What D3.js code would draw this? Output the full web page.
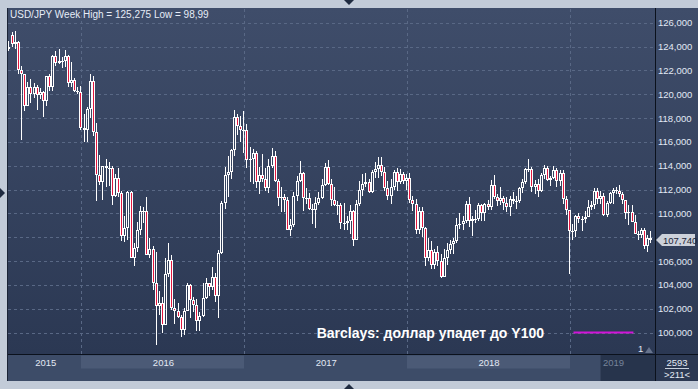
<!DOCTYPE html>
<html>
<head>
<meta charset="utf-8">
<script src="https://cdn.jsdelivr.net/npm/d3@7"></script>
<style>
  body { margin: 0; background: #c2cbd8; }
  svg { display: block; font-family: "Liberation Sans", Arial, sans-serif; }
</style>
</head>
<body>
<div id="chart"></div>
<script>
// weekly USD/JPY candles, [open, high, low, close], one row per week (Monday start)
var start2015 = new Date(2015, 6, 27);
var w2015 = [
  [123.8, 124.5, 123.6, 124.0], [125.0, 125.2, 124.0, 124.2], [124.2, 125.3, 123.8, 124.4],
  [124.4, 124.5, 121.7, 122.0], [122.0, 122.4, 116.2, 121.7], [121.7, 121.7, 118.6, 119.0],
  [119.0, 121.0, 119.0, 120.6], [120.6, 121.3, 119.3, 120.0], [120.0, 120.9, 119.7, 120.6],
  [120.6, 120.8, 118.7, 119.9], [119.9, 120.5, 119.6, 120.2], [120.2, 120.3, 118.1, 119.4],
  [119.4, 121.5, 119.0, 121.5], [121.5, 121.7, 120.3, 120.6], [120.6, 123.3, 120.3, 123.2],
  [123.2, 123.6, 122.4, 122.6], [122.6, 123.8, 122.5, 122.8], [122.8, 123.1, 122.2, 122.8],
  [122.8, 123.7, 122.3, 123.2], [123.2, 123.3, 120.6, 120.9], [120.9, 122.7, 120.6, 121.2],
  [121.2, 121.4, 120.2, 120.3], [120.3, 120.6, 120.0, 120.2]
];
var start2016 = new Date(2016, 0, 4);
var w2016 = [
  [120.2, 120.7, 117.0, 117.2], [117.2, 118.3, 116.0, 117.0], [117.0, 118.9, 116.0, 118.8],
  [118.8, 121.7, 118.0, 121.1], [121.1, 121.5, 116.5, 116.8], [116.8, 117.6, 111.0, 113.2],
  [113.2, 114.9, 112.4, 112.6], [112.6, 114.0, 111.1, 114.0], [114.0, 114.6, 112.2, 113.8],
  [113.8, 114.3, 112.3, 113.8], [113.8, 114.0, 110.7, 111.5], [111.5, 113.3, 111.4, 113.0],
  [113.0, 113.8, 111.4, 111.7], [111.7, 111.9, 107.7, 108.1], [108.1, 109.8, 107.6, 108.8],
  [108.8, 111.9, 107.8, 111.8], [111.8, 111.9, 106.3, 106.3], [106.3, 107.5, 105.6, 107.1],
  [107.1, 109.3, 106.8, 108.6], [108.6, 110.6, 108.2, 110.2], [110.2, 110.5, 109.2, 110.2],
  [110.2, 111.4, 106.5, 106.5], [106.5, 107.9, 106.3, 107.0], [107.0, 107.3, 103.6, 104.2],
  [104.2, 106.8, 99.0, 102.2], [102.2, 103.5, 101.5, 102.5], [102.5, 103.0, 100.0, 100.6],
  [100.6, 106.3, 100.6, 104.9], [104.9, 107.5, 104.7, 106.1], [106.1, 106.5, 101.9, 102.1],
  [102.1, 102.8, 100.7, 101.8], [101.8, 102.5, 101.2, 101.3], [101.3, 101.5, 99.6, 100.2],
  [100.2, 102.1, 99.8, 101.8], [101.8, 104.2, 101.8, 104.0], [104.0, 104.1, 101.2, 102.7],
  [102.7, 103.0, 101.7, 102.3], [102.3, 102.8, 100.1, 101.0], [101.0, 101.7, 100.1, 101.4],
  [101.4, 104.2, 101.3, 102.9], [102.9, 104.6, 102.8, 104.2], [104.2, 104.2, 103.1, 103.8],
  [103.8, 105.5, 103.6, 104.7], [104.7, 105.0, 102.6, 103.1], [103.1, 106.9, 101.2, 106.7],
  [106.7, 111.0, 106.6, 110.9], [110.9, 113.9, 110.4, 113.2], [113.2, 114.8, 111.4, 113.5],
  [113.5, 115.4, 112.9, 115.3], [115.3, 118.7, 114.8, 118.1], [118.1, 118.3, 116.6, 117.3],
  [117.3, 118.2, 116.0, 117.0]
];
var start2017 = new Date(2017, 0, 2);
var w2017 = [
  [117.0, 118.6, 115.1, 116.95], [117.0, 117.5, 113.8, 114.5], [114.5, 115.6, 112.6, 114.6],
  [114.6, 115.4, 112.5, 115.1], [115.1, 115.2, 112.1, 112.6], [112.6, 113.9, 111.6, 113.2],
  [113.2, 115.0, 112.6, 112.9], [112.9, 113.8, 111.9, 112.1], [112.1, 114.6, 111.7, 114.0],
  [114.0, 115.5, 113.8, 114.8], [114.8, 115.2, 112.6, 112.7], [112.7, 112.9, 110.6, 111.3],
  [111.3, 112.2, 110.1, 111.4], [111.4, 111.6, 110.1, 111.1], [111.1, 111.4, 108.7, 108.6],
  [108.6, 109.5, 108.1, 109.0], [109.0, 111.8, 108.9, 111.5], [111.5, 113.1, 111.0, 112.7],
  [112.7, 114.4, 112.6, 113.4], [113.4, 113.5, 110.2, 111.3], [111.3, 112.1, 110.8, 111.3],
  [111.3, 111.7, 110.3, 110.4], [110.4, 110.8, 109.1, 110.3], [110.3, 111.4, 108.8, 110.9],
  [110.9, 111.8, 110.7, 111.3], [111.3, 112.9, 111.2, 112.4], [112.4, 114.2, 112.3, 113.9],
  [113.9, 114.5, 112.4, 112.5], [112.5, 112.9, 110.6, 111.1], [111.1, 112.2, 110.6, 110.7],
  [110.7, 111.0, 109.9, 110.7], [110.7, 110.9, 108.7, 109.2], [109.2, 110.9, 108.6, 109.2],
  [109.2, 109.8, 108.6, 109.4], [109.4, 110.7, 108.3, 110.2], [110.2, 110.3, 107.3, 107.8],
  [107.8, 111.1, 107.8, 110.8], [110.8, 112.7, 110.6, 112.0], [112.0, 113.3, 111.5, 112.5],
  [112.5, 113.4, 112.2, 112.6], [112.6, 112.9, 111.7, 111.8], [111.8, 113.6, 111.7, 113.5],
  [113.5, 114.3, 113.0, 113.7], [113.7, 114.7, 113.0, 114.1], [114.1, 114.7, 113.1, 113.5],
  [113.5, 113.9, 111.9, 112.1], [112.1, 112.7, 111.1, 111.5], [111.5, 112.9, 110.8, 112.2],
  [112.2, 113.6, 112.0, 113.5], [113.5, 113.8, 111.9, 112.6], [112.6, 113.7, 112.5, 113.3],
  [113.3, 113.5, 112.5, 112.7]
];
var start2018 = new Date(2018, 0, 1);
var w2018 = [
  [112.7, 113.3, 112.0, 113.0], [113.0, 113.4, 110.9, 111.1], [111.1, 111.5, 110.2, 110.8],
  [110.8, 111.2, 108.3, 108.6], [108.6, 110.5, 108.3, 110.2], [110.2, 110.5, 108.0, 108.8],
  [108.8, 108.9, 105.6, 106.3], [106.3, 107.9, 106.0, 106.9], [106.9, 107.7, 105.3, 105.7],
  [105.7, 107.0, 105.3, 106.8], [106.8, 107.3, 105.6, 106.0], [106.0, 106.6, 104.6, 104.7],
  [104.7, 107.0, 104.7, 106.3], [106.3, 107.5, 105.7, 106.9], [106.9, 107.8, 106.6, 107.4],
  [107.4, 107.9, 106.6, 107.7], [107.7, 109.6, 107.5, 109.0], [109.0, 110.0, 108.7, 109.1],
  [109.1, 109.8, 108.6, 109.4], [109.4, 111.0, 109.2, 110.8], [110.8, 111.4, 108.9, 109.4],
  [109.4, 109.8, 108.1, 109.5], [109.5, 110.3, 109.2, 109.5], [109.5, 110.9, 109.4, 110.7],
  [110.7, 110.8, 109.4, 110.0], [110.0, 110.9, 109.4, 110.8], [110.8, 111.1, 110.3, 110.5],
  [110.5, 112.8, 110.3, 112.4], [112.4, 113.2, 111.2, 111.4], [111.4, 111.6, 110.6, 111.0],
  [111.0, 112.2, 110.7, 111.3], [111.3, 111.5, 110.3, 110.9], [110.9, 111.4, 110.1, 110.5],
  [110.5, 111.5, 109.8, 111.2], [111.2, 111.8, 110.8, 111.0], [111.0, 111.5, 110.4, 111.0],
  [111.0, 112.2, 110.9, 112.1], [112.1, 112.9, 111.7, 112.6], [112.6, 113.8, 112.5, 113.7],
  [113.7, 114.6, 113.5, 113.7], [113.7, 113.9, 111.8, 112.2], [112.2, 112.8, 111.6, 112.5],
  [112.5, 112.9, 111.4, 111.9], [111.9, 113.4, 111.8, 113.2], [113.2, 114.1, 112.9, 113.8],
  [113.8, 114.0, 112.7, 112.8], [112.8, 113.1, 112.3, 113.0], [113.0, 114.0, 112.9, 113.6],
  [113.6, 113.8, 112.2, 112.7], [112.7, 113.6, 112.3, 113.4], [113.4, 113.6, 110.8, 111.2],
  [111.2, 111.5, 109.9, 110.3]
];
var start2019 = new Date(2018, 11, 31);
var w2019 = [
  [110.3, 110.3, 104.9, 108.5], [108.5, 109.1, 107.8, 108.5], [108.5, 109.9, 108.0, 109.8],
  [109.8, 110.0, 109.2, 109.5], [109.5, 109.8, 108.5, 109.5], [109.5, 110.2, 109.2, 109.7],
  [109.7, 111.1, 109.7, 110.5], [110.5, 111.0, 110.3, 110.7], [110.7, 112.1, 110.4, 111.9],
  [111.9, 112.1, 110.8, 111.2], [111.2, 111.9, 110.8, 111.5], [111.5, 111.7, 109.8, 109.9],
  [109.9, 111.0, 109.7, 110.9], [110.9, 111.8, 110.8, 111.7], [111.7, 112.1, 110.8, 112.0],
  [112.0, 112.2, 111.6, 111.9], [111.9, 112.4, 111.4, 111.6], [111.6, 111.8, 110.8, 111.1],
  [111.1, 111.1, 109.5, 110.0], [110.0, 110.7, 109.0, 110.1], [110.1, 110.7, 109.3, 109.3],
  [109.3, 109.9, 108.3, 108.3], [108.3, 108.5, 107.8, 108.2], [108.2, 108.8, 107.9, 108.6],
  [108.6, 108.8, 107.0, 107.3], [107.3, 108.2, 106.8, 107.9], [107.9, 108.5, 107.5, 107.74]
];

var yTicks = [100, 102, 104, 106, 108, 110, 112, 114, 116, 118, 120, 122, 124, 126];
var yearLabels = ["2015", "2016", "2017", "2018", "2019"];
var lastPrice = 107.74;
var targetLevel = 100;
var targetFrom = new Date(2019, 0, 10), targetTo = new Date(2019, 4, 24);
var titleText = "USD/JPY Week High = 125,275 Low = 98,99";
var noteText = "Barclays: доллар упадет до Y100";

var width = 698, height = 389;
var plot = { left: 8, top: 9, right: 655, bottom: 354 };
var stripBottom = 381;

var segments = [[start2015, w2015], [start2016, w2016], [start2017, w2017], [start2018, w2018], [start2019, w2019]];
var candles = [];
segments.forEach(function(s) {
  s[1].forEach(function(r, i) {
    candles.push({ date: d3.timeMonday.offset(s[0], i), o: r[0], h: r[1], l: r[2], c: r[3] });
  });
});

var x = d3.scaleTime()
  .domain([new Date(2015, 7, 24), new Date(2018, 11, 31)])
  .range([21, 569]);
var y = d3.scaleLinear().domain([100, 126]).range([332.6, 22.7]);

var fmt = d3.formatLocale({ decimal: ",", thousands: " ", grouping: [3], currency: ["", ""] }).format(".3f");

var svg = d3.select("#chart").append("svg")
  .attr("width", width)
  .attr("height", height);

var defs = svg.append("defs");
var grad = defs.append("linearGradient")
  .attr("id", "bg").attr("x1", 0).attr("y1", 0).attr("x2", 0).attr("y2", 1);
grad.append("stop").attr("offset", "0%").attr("stop-color", "#3f4d6a");
grad.append("stop").attr("offset", "100%").attr("stop-color", "#2b3853");
defs.append("clipPath").attr("id", "clip")
  .append("rect")
  .attr("x", plot.left).attr("y", plot.top)
  .attr("width", plot.right - plot.left).attr("height", plot.bottom - plot.top);

// frame
svg.append("rect").attr("width", width).attr("height", height).attr("fill", "#c2cbd8");
svg.append("rect")
  .attr("x", 7).attr("y", 8)
  .attr("width", width - 7).attr("height", plot.bottom - 8)
  .attr("fill", "url(#bg)");
svg.append("rect")
  .attr("x", 7).attr("y", plot.bottom)
  .attr("width", width - 7).attr("height", stripBottom - plot.bottom)
  .attr("fill", "#3d4c68");

// little arrows on the frame
var arrows = [
  [[344, 0], [354, 0], [349, 5]],
  [[0, 188], [0, 198], [5, 193]],
  [[344, 389], [354, 389], [349, 384]]
];
svg.selectAll(".arrow").data(arrows).enter().append("polygon")
  .attr("points", function(d) { return d.join(" "); })
  .attr("fill", "#1f2b40");

// grid
var yearStarts = [start2016, start2017, start2018, start2019];
var grid = svg.append("g").attr("stroke", "#596885").attr("stroke-dasharray", "3,3");
grid.selectAll(".hg").data(yTicks).enter().append("line")
  .attr("x1", plot.left).attr("x2", plot.right - 1)
  .attr("y1", function(d) { return Math.round(y(d)) + 0.5; })
  .attr("y2", function(d) { return Math.round(y(d)) + 0.5; });
grid.selectAll(".vg").data(yearStarts).enter().append("line")
  .attr("x1", function(d) { return Math.round(x(d)) + 1.5; })
  .attr("x2", function(d) { return Math.round(x(d)) + 1.5; })
  .attr("y1", plot.top).attr("y2", plot.bottom);

// candles
var g = svg.append("g").attr("clip-path", "url(#clip)");
var cg = g.selectAll(".candle").data(candles).enter().append("g");
cg.each(function(d) {
  var el = d3.select(this);
  var xl = Math.round(x(d.date)) - 1;
  var cx = xl + 1.5;
  var top = Math.round(y(Math.max(d.o, d.c)));
  var bot = Math.round(y(Math.min(d.o, d.c)));
  if (bot - top < 1) bot = top + 1;
  el.append("line").attr("x1", cx).attr("x2", cx)
    .attr("y1", Math.round(y(d.h))).attr("y2", top)
    .attr("stroke", "#fff");
  el.append("line").attr("x1", cx).attr("x2", cx)
    .attr("y1", bot).attr("y2", Math.round(y(d.l)))
    .attr("stroke", "#fff");
  el.append("rect")
    .attr("x", xl + 0.5).attr("y", top + 0.5)
    .attr("width", 2).attr("height", Math.max(bot - top - 1, 0.01))
    .attr("fill", d.c < d.o ? "#e3173f" : "none")
    .attr("stroke", "#fff");
});

// Barclays target line and note
svg.append("line")
  .attr("x1", x(targetFrom)).attr("x2", x(targetTo))
  .attr("y1", y(targetLevel)).attr("y2", y(targetLevel))
  .attr("stroke", "#d214d8").attr("stroke-width", 2);
svg.append("text")
  .attr("x", 544).attr("y", y(targetLevel) + 5)
  .attr("text-anchor", "end")
  .attr("fill", "#ffffff")
  .attr("font-size", 14).attr("font-weight", "bold")
  .text(noteText);

// title
svg.append("text")
  .attr("x", 10).attr("y", 18)
  .attr("fill", "#e6ecf7").attr("font-size", 10)
  .text(titleText);

// right axis
svg.append("line").attr("x1", plot.right + 0.5).attr("x2", plot.right + 0.5)
  .attr("y1", 8).attr("y2", stripBottom).attr("stroke", "#0b111c");
svg.append("line").attr("x1", 7).attr("x2", width)
  .attr("y1", plot.bottom + 0.5).attr("y2", plot.bottom + 0.5).attr("stroke", "#0b111c");
svg.append("line").attr("x1", 7.5).attr("x2", 7.5)
  .attr("y1", 8).attr("y2", stripBottom).attr("stroke", "#1b2436");

// the last-price tag hides the tick label it sits on
var ly = Math.round(y(lastPrice));
var shownTicks = yTicks.filter(function(d) { return Math.abs(y(d) - ly) > 10; });
svg.selectAll(".yl").data(shownTicks).enter().append("text")
  .attr("x", 658).attr("y", function(d) { return y(d) + 3.5; })
  .attr("fill", "#e2e9f5").attr("font-size", 9.5)
  .text(function(d) { return fmt(d); });

svg.append("polygon")
  .attr("points", [[656, ly], [662, ly - 6], [695, ly - 6], [695, ly + 6], [662, ly + 6]].join(" "))
  .attr("fill", "#ccd1da");
svg.append("text")
  .attr("x", 663).attr("y", ly + 3.5)
  .attr("fill", "#1a2336").attr("font-size", 9.5)
  .text(fmt(lastPrice));

// year strip
var bands = [[start2016, start2017], [start2018, start2019]];
svg.selectAll(".band").data(bands).enter().append("rect")
  .attr("x", function(d) { return Math.round(x(d[0])) + 1; })
  .attr("width", function(d) { return Math.round(x(d[1])) - Math.round(x(d[0])); })
  .attr("y", plot.bottom + 1.5).attr("height", 13)
  .attr("fill", "#4b5a76");
var labelPos = [
  (plot.left + x(start2016)) / 2,
  (x(start2016) + x(start2017)) / 2,
  (x(start2017) + x(start2018)) / 2,
  (x(start2018) + x(start2019)) / 2
];
svg.selectAll(".yr").data(labelPos).enter().append("text")
  .attr("x", function(d) { return d + 1.5; })
  .attr("y", 366)
  .attr("text-anchor", "middle")
  .attr("fill", "#e3e9f4").attr("font-size", 9.5)
  .text(function(d, i) { return yearLabels[i]; });
svg.append("rect").attr("x", 600).attr("y", plot.bottom + 1)
  .attr("width", plot.right - 600).attr("height", stripBottom - plot.bottom - 1)
  .attr("fill", "#27344c");
svg.append("line").attr("x1", 600.5).attr("x2", 600.5)
  .attr("y1", plot.bottom + 1).attr("y2", stripBottom).attr("stroke", "#34415a");
svg.append("text").attr("x", 603).attr("y", 366)
  .attr("fill", "#76839a").attr("font-size", 9.5)
  .text(yearLabels[4]);

// bottom-right box
svg.append("rect").attr("x", plot.right + 1).attr("y", plot.bottom + 1)
  .attr("width", width - plot.right - 1).attr("height", stripBottom - plot.bottom - 1)
  .attr("fill", "#2b3852");
svg.append("text").attr("x", 677).attr("y", 366).attr("text-anchor", "middle")
  .attr("fill", "#e3e9f4").attr("font-size", 9.5).text("2593");
svg.append("line").attr("x1", 665).attr("x2", 689).attr("y1", 368.5).attr("y2", 368.5)
  .attr("stroke", "#c8d0dd");
svg.append("text").attr("x", 677).attr("y", 378).attr("text-anchor", "middle")
  .attr("fill", "#e3e9f4").attr("font-size", 9.5).text(">211<");

// corner marker
svg.append("text").attr("x", 638).attr("y", 352)
  .attr("fill", "#e3e9f4").attr("font-size", 9.5).text("1");
svg.append("polygon").attr("points", "645,353 653,353 649,347").attr("fill", "#66738c");
</script>
</body>
</html>
